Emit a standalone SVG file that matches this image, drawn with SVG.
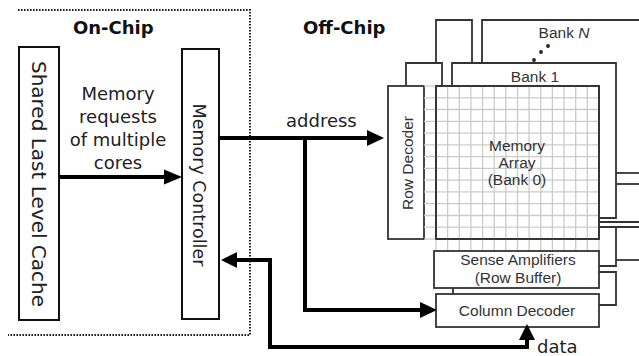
<svg xmlns="http://www.w3.org/2000/svg" width="639" height="356" viewBox="0 0 639 356">
<defs>
<style>
.box{fill:#fff;stroke:#111;stroke-width:2}
.rbox{fill:#fff;stroke:#333;stroke-width:1.8}
.rl{fill:none;stroke:#333;stroke-width:1.8}
.grid{stroke:#cbcbcb;stroke-width:1.3}
.dot{fill:none;stroke:#222;stroke-width:2;stroke-dasharray:1.6 1.4}
.conn{fill:none;stroke:#000;stroke-width:4}
.lt{font-family:"DejaVu Sans",Verdana,sans-serif;fill:#222}
.hd{font-family:"DejaVu Sans",Verdana,sans-serif;font-weight:bold;font-size:18px;fill:#111}
.rt{font-family:"Liberation Sans",Arial,sans-serif;fill:#333;font-size:15.5px;text-anchor:middle}
</style>
</defs>
<rect width="639" height="356" fill="#fff"/>
<g id="onchip-boundary">
<path class="dot" d="M18,10 H250 V335 H8"/>
</g>
<text class="hd" x="73" y="34">On-Chip</text>
<text class="hd" x="303" y="34">Off-Chip</text>

<g id="bank-n">
<path class="rl" d="M436,63 V20 H472 V63"/>
<path class="rl" d="M482,63 V20 H639"/>
<line class="rl" x1="616" y1="173" x2="639" y2="173"/>
<line class="rl" x1="616" y1="184" x2="639" y2="184"/>
<text class="rt" x="564" y="38">Bank <tspan font-style="italic">N</tspan></text>
<circle cx="548" cy="46" r="1.9" fill="#222"/>
<circle cx="541" cy="52" r="1.9" fill="#222"/>
<circle cx="534" cy="60" r="1.9" fill="#222"/>
</g>
<g id="bank-1">
<path class="rl" d="M406,86 V63 H442 V86"/>
<path class="rl" d="M452,86 V63 H616 V218 H599"/>
<text class="rt" x="535" y="82">Bank 1</text>
</g>
<g id="side-lines">
<line class="rl" x1="599" y1="222" x2="639" y2="222"/>
<line class="rl" x1="599" y1="227" x2="639" y2="227"/>
<path class="rl" d="M616,227 V266 H599"/>
<line class="rl" x1="616" y1="260" x2="639" y2="260"/>
<path class="rl" d="M599,272 H616 V305 H599"/>
</g>

<g id="row-decoder">
<rect class="rbox" x="388" y="86" width="36" height="153"/>
<text class="rt" transform="translate(413,163) rotate(-90)" x="0" y="0" font-size="14px">Row Decoder</text>
</g>
<g id="memory-array">
<rect class="rbox" x="436" y="86" width="163" height="153"/>
<g class="grid">
<line x1="424" y1="86" x2="436" y2="86"/>
<line x1="424" y1="97.8" x2="599" y2="97.8"/>
<line x1="424" y1="109.5" x2="599" y2="109.5"/>
<line x1="424" y1="121.3" x2="599" y2="121.3"/>
<line x1="424" y1="133.1" x2="599" y2="133.1"/>
<line x1="424" y1="144.9" x2="599" y2="144.9"/>
<line x1="424" y1="156.6" x2="599" y2="156.6"/>
<line x1="424" y1="168.4" x2="599" y2="168.4"/>
<line x1="424" y1="180.2" x2="599" y2="180.2"/>
<line x1="424" y1="191.9" x2="599" y2="191.9"/>
<line x1="424" y1="203.7" x2="599" y2="203.7"/>
<line x1="424" y1="215.5" x2="599" y2="215.5"/>
<line x1="424" y1="227.2" x2="599" y2="227.2"/>
<line x1="424" y1="239" x2="436" y2="239"/>
<line x1="436" y1="239" x2="436" y2="251"/>
<line x1="447.6" y1="86" x2="447.6" y2="251"/>
<line x1="459.3" y1="86" x2="459.3" y2="251"/>
<line x1="470.9" y1="86" x2="470.9" y2="251"/>
<line x1="482.6" y1="86" x2="482.6" y2="251"/>
<line x1="494.2" y1="86" x2="494.2" y2="251"/>
<line x1="505.8" y1="86" x2="505.8" y2="251"/>
<line x1="517.5" y1="86" x2="517.5" y2="251"/>
<line x1="529.1" y1="86" x2="529.1" y2="251"/>
<line x1="540.8" y1="86" x2="540.8" y2="251"/>
<line x1="552.4" y1="86" x2="552.4" y2="251"/>
<line x1="564" y1="86" x2="564" y2="251"/>
<line x1="575.7" y1="86" x2="575.7" y2="251"/>
<line x1="587.3" y1="86" x2="587.3" y2="251"/>
<line x1="599" y1="239" x2="599" y2="251"/>
</g>
<rect x="436" y="86" width="163" height="153" fill="none" stroke="#333" stroke-width="1.8"/>
<text class="rt" x="517" y="151">Memory</text>
<text class="rt" x="517" y="168">Array</text>
<text class="rt" x="517" y="185">(Bank 0)</text>
</g>
<g id="sense-amplifiers">
<rect class="rbox" x="434" y="251" width="165" height="37"/>
<text class="rt" x="518" y="265">Sense Amplifiers</text>
<text class="rt" x="518" y="283">(Row Buffer)</text>
</g>
<line class="rl" x1="453" y1="288" x2="453" y2="294"/>
<g id="column-decoder">
<rect class="rbox" x="436" y="294" width="163" height="33"/>
<text class="rt" x="517" y="315.5">Column Decoder</text>
</g>

<g id="shared-llc">
<rect class="box" x="19" y="47" width="40" height="273"/>
<text class="lt" transform="translate(32,184) rotate(90)" text-anchor="middle" font-size="20px">Shared Last Level Cache</text>
</g>
<g id="memory-controller">
<rect class="box" x="182" y="49" width="37" height="270"/>
<text class="lt" transform="translate(193,185) rotate(90)" text-anchor="middle" font-size="17.5px">Memory Controller</text>
</g>

<g id="connectors">
<line class="conn" x1="59" y1="177" x2="166" y2="177"/>
<polygon points="182,177 164,169.5 164,184.5" fill="#000"/>
<line class="conn" x1="219" y1="138" x2="369" y2="138"/>
<polygon points="384,138 367,130 367,146" fill="#000"/>
<path class="conn" d="M305,138 V310 H422"/>
<polygon points="437,310 420,302 420,318" fill="#000"/>
<path class="conn" d="M235,260 H270 V347 H527 V339"/>
<polygon points="221,260 237,252 237,268" fill="#000"/>
<polygon points="527,324 519,340 535,340" fill="#000"/>
</g>
<text class="lt" x="118" y="100" font-size="18px" text-anchor="middle">Memory</text>
<text class="lt" x="118" y="123" font-size="18px" text-anchor="middle">requests</text>
<text class="lt" x="118" y="146" font-size="18px" text-anchor="middle">of multiple</text>
<text class="lt" x="118" y="169" font-size="18px" text-anchor="middle">cores</text>
<text class="lt" x="286" y="127" font-size="18px">address</text>
<text class="lt" x="537" y="353" font-size="18px">data</text>
</svg>
